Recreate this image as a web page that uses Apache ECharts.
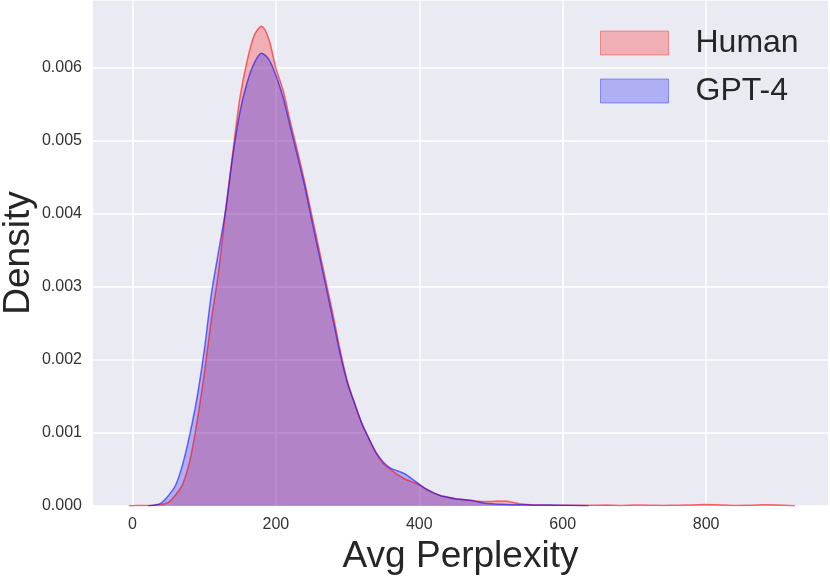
<!DOCTYPE html>
<html>
<head>
<meta charset="utf-8">
<script src="https://cdn.jsdelivr.net/npm/echarts@6/dist/echarts.min.js"></script>
<style>
  html, body { margin: 0; padding: 0; background: #fff; }
  #main { width: 830px; height: 578px; }
</style>
</head>
<body>
<div id="main"></div>
<script>
// Human KDE
var humanX = [-5, 0, 10, 20, 30, 40, 50, 60, 70, 80, 90, 100, 110, 120, 130, 140, 150, 160, 170, 180,
  190, 200, 210, 220, 230, 240, 250, 260, 270, 280, 290, 300, 310, 320, 330, 340, 350, 360, 370, 380,
  390, 400, 410, 420, 430, 440, 450, 460, 470, 480, 490, 500, 510, 520, 530, 540, 550, 560, 580, 600,
  620, 640, 660, 680, 700, 720, 740, 760, 780, 800, 820, 840, 860, 880, 900, 924];
var humanY = [0.000005, 0.000005, 0.000006, 0.000008, 0.000012, 0.00002, 0.00005, 0.00015, 0.0003, 0.00062,
  0.00115, 0.0018, 0.00255, 0.0032, 0.00405, 0.00485, 0.0056, 0.0061, 0.00645, 0.00657,
  0.0064, 0.006, 0.0057, 0.00527, 0.00487, 0.00445, 0.00399, 0.00353, 0.00307, 0.00261,
  0.00212, 0.0017, 0.0014, 0.00113, 0.00092, 0.00072, 0.00058, 0.0005, 0.00043, 0.00037,
  0.00033, 0.00029, 0.00023, 0.00018, 0.00014, 0.00012, 0.0001, 0.00009, 0.00008, 0.00007,
  0.00006, 0.00006, 0.00007, 0.00007, 0.00005, 0.00003, 0.00002, 0.000015, 0.000012, 0.00001,
  0.00001, 0.00001, 0.000012, 0.000008, 0.000015, 0.00001, 0.000008, 0.00001, 0.000015, 0.00002,
  0.000015, 0.000008, 0.00001, 0.000018, 0.000015, 0.000003];

// GPT-4 KDE
var gptX = [22, 30, 40, 50, 60, 70, 80, 90, 100, 110, 120, 130, 140, 150, 160, 170, 180, 190, 200,
  210, 220, 230, 240, 250, 260, 270, 280, 290, 300, 310, 320, 330, 340, 350, 360, 370, 380, 390, 400,
  410, 420, 430, 440, 450, 460, 470, 480, 490, 500, 520, 560, 600, 636];
var gptY = [0.000003, 0.00001, 0.00004, 0.00014, 0.00028, 0.00057, 0.00098, 0.00148, 0.00212,
  0.0029, 0.00348, 0.00406, 0.0048, 0.0054, 0.0058, 0.00607, 0.0062, 0.00612, 0.0059,
  0.0056, 0.0052, 0.0048, 0.00439, 0.00392, 0.00346, 0.003, 0.00254, 0.00207, 0.00168,
  0.0014, 0.00113, 0.00092, 0.00073, 0.0006, 0.00052, 0.00048, 0.00044, 0.00037, 0.0003,
  0.00023, 0.00018, 0.00014, 0.00012, 0.0001, 0.00009, 0.00008, 0.00006, 0.00004, 0.00003,
  0.00002, 0.000015, 0.00001, 0.000005];

var xTicks = [0, 200, 400, 600, 800];

function pairs(xs, ys) {
  var out = [];
  for (var i = 0; i < xs.length; i++) out.push([xs[i], ys[i]]);
  return out;
}

var chart = echarts.init(document.getElementById('main'));
var font = 'Liberation Sans, Arial, sans-serif';

var option = {
  animation: false,
  textStyle: { fontFamily: font },
  grid: {
    left: 93, right: 2, top: 0, bottom: 72,
    outerBoundsMode: 'none',
    containLabel: false,
    show: true, backgroundColor: '#EAEAF2', borderWidth: 0
  },
  legend: {
    left: 595, top: 22,
    orient: 'vertical',
    icon: 'rect',
    itemWidth: 68, itemHeight: 24, itemGap: 16,
    textStyle: { fontSize: 32, lineHeight: 32, color: '#262626', fontFamily: font, padding: [0, 0, 0, 22] },
    data: [
      { name: 'Human', itemStyle: { color: 'rgba(255,0,0,0.25)', borderColor: 'rgba(255,0,0,0.35)', borderWidth: 1 } },
      { name: 'GPT-4', itemStyle: { color: 'rgba(0,0,255,0.25)', borderColor: 'rgba(0,0,255,0.35)', borderWidth: 1 } }
    ]
  },
  xAxis: {
    type: 'value',
    min: -55, max: 970,
    name: 'Avg Perplexity',
    nameLocation: 'middle',
    nameGap: 32,
    nameTextStyle: { fontSize: 37, color: '#262626', fontFamily: font },
    axisLine: { show: false },
    axisTick: { show: false, customValues: xTicks },
    axisLabel: { fontSize: 16, color: '#333', margin: 11, customValues: xTicks },
    splitLine: { lineStyle: { color: '#fff', width: 1.5 } }
  },
  yAxis: {
    type: 'value',
    min: 0, max: 0.00693, interval: 0.001,
    name: 'Density',
    nameLocation: 'middle',
    nameGap: 56,
    nameMoveOverlap: false,
    nameTextStyle: { fontSize: 37, color: '#262626', fontFamily: font },
    axisLine: { show: false },
    axisTick: { show: false },
    axisLabel: {
      fontSize: 16, color: '#333', margin: 11,
      showMaxLabel: false,
      formatter: function (v) { return v.toFixed(3); }
    },
    splitLine: { lineStyle: { color: '#fff', width: 1.5 } }
  },
  series: [
    {
      name: 'Human', type: 'line', smooth: 0.3, showSymbol: false,
      data: pairs(humanX, humanY),
      itemStyle: { color: 'rgba(255,0,0,0.25)' },
      lineStyle: { color: 'rgba(255,0,0,0.55)', width: 1.5 },
      areaStyle: { color: 'rgba(255,0,0,0.25)', opacity: 1 }
    },
    {
      name: 'GPT-4', type: 'line', smooth: 0.3, showSymbol: false,
      data: pairs(gptX, gptY),
      itemStyle: { color: 'rgba(0,0,255,0.25)' },
      lineStyle: { color: 'rgba(0,0,255,0.55)', width: 1.5 },
      areaStyle: { color: 'rgba(0,0,255,0.25)', opacity: 1 }
    }
  ]
};
chart.setOption(option);
</script>
</body>
</html>
